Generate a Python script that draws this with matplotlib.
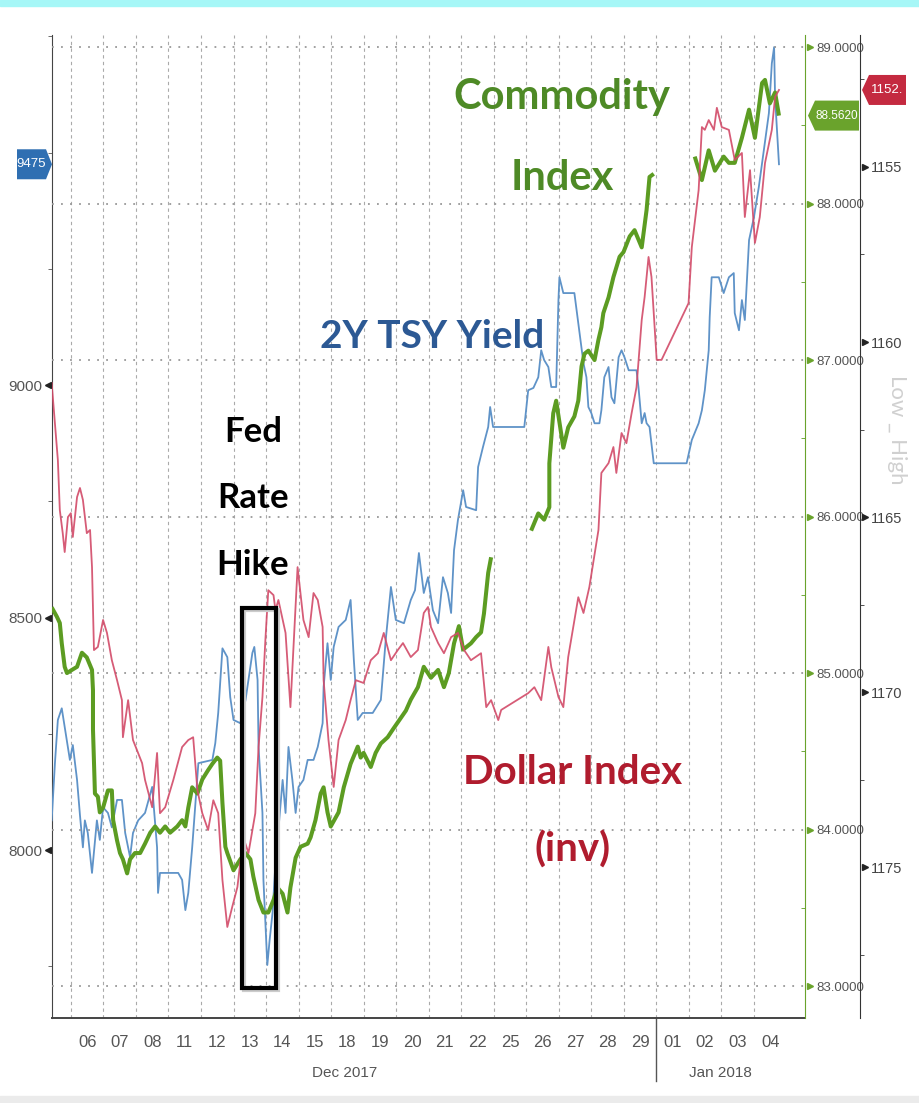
import numpy as np
import matplotlib.pyplot as plt
from matplotlib.patches import Polygon, Rectangle
from matplotlib.transforms import blended_transform_factory as blend

nan = float('nan')

# trading sessions on the x axis (slot i spans [i, i+1))
days = ['06', '07', '08', '11', '12', '13', '14', '15', '18', '19', '20', '21',
        '22', '25', '26', '27', '28', '29', '01', '02', '03', '04']

# 2Y TSY yield, left scale: (session position, value)
tsy = [(-0.59, 8064), (-0.49, 8187), (-0.40, 8280), (-0.28, 8305), (-0.15, 8247), (-0.03, 8194),
       (0.06, 8226), (0.19, 8151), (0.28, 8075), (0.37, 8006), (0.43, 8064), (0.52, 8037),
       (0.65, 7951), (0.80, 8064), (0.89, 8022), (0.99, 8092), (1.14, 8080), (1.26, 8049),
       (1.42, 8108), (1.57, 8108), (1.67, 8037), (1.82, 7985), (1.91, 8037), (2.07, 8064),
       (2.28, 8080), (2.50, 8136), (2.65, 8006), (2.68, 7908), (2.74, 7951), (3.30, 7951),
       (3.42, 7936), (3.52, 7871), (3.61, 7908), (3.73, 8006), (3.92, 8187), (4.35, 8194),
       (4.44, 8230), (4.53, 8295), (4.66, 8434), (4.81, 8415), (4.90, 8329), (5.00, 8280),
       (5.21, 8273), (5.37, 8323), (5.46, 8366), (5.58, 8424), (5.64, 8437), (5.74, 8366),
       (5.77, 8222), (5.89, 8080), (5.92, 7936), (6.04, 7753), (6.11, 7806), (6.20, 7865),
       (6.29, 7972), (6.38, 8043), (6.51, 8151), (6.60, 8080), (6.69, 8222), (6.81, 8151),
       (6.91, 8080), (7.00, 8136), (7.15, 8151), (7.28, 8194), (7.46, 8194), (7.59, 8222),
       (7.74, 8273), (7.77, 8351), (7.89, 8445), (7.99, 8366), (8.08, 8437), (8.23, 8480),
       (8.45, 8495), (8.60, 8538), (8.70, 8409), (8.82, 8280), (8.97, 8295), (9.28, 8295),
       (9.53, 8323), (9.68, 8452), (9.84, 8566), (9.99, 8495), (10.24, 8488), (10.45, 8538),
       (10.58, 8559), (10.70, 8639), (10.85, 8553), (10.98, 8587), (11.13, 8516), (11.29, 8488),
       (11.44, 8587), (11.59, 8553), (11.69, 8510), (11.78, 8645), (11.90, 8710), (12.06, 8774),
       (12.15, 8738), (12.46, 8731), (12.52, 8824), (12.67, 8867), (12.83, 8910), (12.89, 8953),
       (12.98, 8910), (13.94, 8910), (14.06, 8989), (14.22, 8994), (14.37, 9017), (14.46, 9075),
       (14.55, 9054), (14.68, 9039), (14.77, 8996), (14.92, 8996), (14.99, 9183), (15.02, 9232),
       (15.14, 9198), (15.48, 9198), (15.63, 9118), (15.76, 9047), (15.85, 9017), (15.91, 8953),
       (16.00, 8940), (16.10, 8918), (16.25, 8918), (16.31, 8946), (16.40, 9017), (16.53, 9039),
       (16.62, 8974), (16.71, 8961), (16.84, 9060), (16.93, 9075), (17.02, 9060), (17.15, 9032),
       (17.39, 9032), (17.45, 8996), (17.55, 8918), (17.64, 8940), (17.70, 8918), (17.79, 8910),
       (17.92, 8832), (18.93, 8832), (19.09, 8882), (19.30, 8918), (19.40, 8946), (19.49, 8989),
       (19.61, 9075), (19.64, 9146), (19.70, 9232), (19.92, 9232), (20.07, 9198), (20.23, 9232),
       (20.38, 9241), (20.41, 9155), (20.54, 9118), (20.63, 9183), (20.72, 9140), (20.85, 9312),
       (21.00, 9361), (21.15, 9426), (21.25, 9477), (21.46, 9585), (21.55, 9692), (21.62, 9727),
       (21.65, 9619), (21.77, 9475)]

# Commodity index, inner right scale (gaps = holidays)
cmdty = [(-0.59, 85.42), (-0.43, 85.36), (-0.34, 85.32), (-0.28, 85.19), (-0.19, 85.04), (-0.12, 85.00),
         (0.03, 85.02), (0.19, 85.04), (0.34, 85.13), (0.49, 85.10), (0.65, 85.02), (0.68, 84.89),
         (0.68, 84.64), (0.74, 84.23), (0.83, 84.21), (0.89, 84.11), (0.99, 84.14), (1.14, 84.25),
         (1.26, 84.25), (1.30, 84.06), (1.42, 83.93), (1.51, 83.85), (1.60, 83.81), (1.73, 83.72),
         (1.82, 83.81), (1.97, 83.85), (2.13, 83.85), (2.28, 83.91), (2.44, 83.98), (2.59, 84.02),
         (2.74, 83.98), (2.90, 84.02), (3.05, 83.98), (3.27, 84.02), (3.42, 84.06), (3.52, 84.02),
         (3.61, 84.14), (3.73, 84.27), (3.89, 84.23), (4.04, 84.32), (4.22, 84.38), (4.35, 84.42),
         (4.50, 84.46), (4.59, 84.44), (4.66, 84.17), (4.75, 83.89), (4.81, 83.85), (5.00, 83.74),
         (5.21, 83.81), (5.37, 83.85), (5.52, 83.81), (5.61, 83.70), (5.77, 83.55), (5.92, 83.47),
         (6.07, 83.47), (6.23, 83.55), (6.35, 83.63), (6.51, 83.59), (6.66, 83.47), (6.75, 83.63),
         (6.91, 83.82), (7.06, 83.89), (7.28, 83.91), (7.37, 83.95), (7.52, 84.06), (7.68, 84.23),
         (7.77, 84.27), (7.89, 84.11), (7.99, 84.02), (8.23, 84.11), (8.39, 84.27), (8.60, 84.42),
         (8.82, 84.53), (8.91, 84.46), (9.00, 84.49), (9.22, 84.40), (9.37, 84.49), (9.53, 84.55),
         (9.74, 84.59), (9.90, 84.64), (10.30, 84.76), (10.45, 84.83), (10.67, 84.91), (10.85, 85.04),
         (11.07, 84.97), (11.29, 85.02), (11.47, 84.91), (11.62, 85.00), (11.78, 85.19), (11.93, 85.30),
         (12.06, 85.15), (12.30, 85.19), (12.46, 85.23), (12.61, 85.26), (12.70, 85.38), (12.83, 85.64),
         (12.92, 85.74), (13.50, nan), (14.15, 85.91), (14.37, 86.02), (14.55, 85.98), (14.71, 86.06),
         (14.71, 86.34), (14.83, 86.66), (14.92, 86.74), (15.14, 86.44), (15.29, 86.57), (15.48, 86.64),
         (15.60, 86.74), (15.70, 86.96), (15.79, 87.04), (15.91, 87.06), (16.10, 87.00), (16.22, 87.13),
         (16.31, 87.21), (16.37, 87.30), (16.53, 87.40), (16.68, 87.53), (16.87, 87.66), (16.99, 87.69),
         (17.18, 87.79), (17.33, 87.83), (17.55, 87.72), (17.70, 87.96), (17.79, 88.17), (17.92, 88.19),
         (18.50, nan), (19.18, 88.30), (19.40, 88.15), (19.61, 88.34), (19.80, 88.21), (20.07, 88.30),
         (20.23, 88.26), (20.41, 88.26), (20.63, 88.42), (20.85, 88.60), (21.03, 88.42), (21.25, 88.77),
         (21.34, 88.79), (21.49, 88.64), (21.65, 88.71), (21.77, 88.562)]

# Dollar index, outer right scale (inverted)
dxy = [(-0.59, 1161.17), (-0.40, 1163.37), (-0.34, 1164.80), (-0.25, 1165.46), (-0.19, 1166.00), (-0.09, 1165.00),
       (0.00, 1164.89), (0.06, 1165.57), (0.19, 1164.43), (0.28, 1164.17), (0.37, 1164.51), (0.49, 1165.46),
       (0.59, 1165.37), (0.65, 1166.43), (0.71, 1168.80), (0.83, 1168.71), (0.99, 1167.94), (1.11, 1168.31),
       (1.26, 1169.09), (1.42, 1169.66), (1.57, 1170.23), (1.60, 1171.29), (1.76, 1170.23), (1.91, 1171.37),
       (2.19, 1172.03), (2.28, 1172.51), (2.50, 1173.29), (2.65, 1171.74), (2.74, 1173.46), (2.90, 1173.29),
       (3.15, 1172.51), (3.42, 1171.57), (3.61, 1171.37), (3.76, 1171.29), (3.89, 1172.80), (4.04, 1173.46),
       (4.22, 1173.94), (4.38, 1173.09), (4.53, 1173.46), (4.66, 1175.37), (4.81, 1176.71), (4.96, 1176.14),
       (5.12, 1175.57), (5.30, 1174.14), (5.46, 1174.60), (5.67, 1173.46), (5.77, 1171.57), (5.89, 1170.14),
       (5.98, 1168.51), (6.07, 1167.09), (6.23, 1167.23), (6.29, 1167.66), (6.38, 1167.37), (6.60, 1168.31),
       (6.75, 1170.43), (6.97, 1166.43), (7.15, 1167.94), (7.31, 1168.43), (7.46, 1167.17), (7.59, 1167.37),
       (7.74, 1168.14), (7.77, 1169.66), (7.92, 1171.37), (8.08, 1172.71), (8.23, 1171.37), (8.45, 1170.80),
       (8.60, 1170.23), (8.76, 1169.66), (9.00, 1169.74), (9.22, 1169.09), (9.44, 1168.89), (9.62, 1168.31),
       (9.84, 1169.09), (10.05, 1168.80), (10.21, 1168.60), (10.45, 1169.00), (10.67, 1168.80), (10.85, 1167.74),
       (10.98, 1167.57), (11.07, 1168.14), (11.29, 1168.60), (11.47, 1168.89), (11.69, 1168.43), (11.90, 1168.31),
       (12.09, 1168.80), (12.30, 1169.09), (12.61, 1168.89), (12.77, 1170.43), (12.92, 1170.23), (13.14, 1170.80),
       (13.23, 1170.51), (14.06, 1170.03), (14.25, 1169.86), (14.46, 1170.23), (14.68, 1168.71), (14.77, 1169.29),
       (14.99, 1170.14), (15.14, 1170.43), (15.29, 1169.00), (15.60, 1167.29), (15.76, 1167.74), (15.94, 1167.00),
       (16.22, 1165.37), (16.31, 1163.74), (16.53, 1163.46), (16.68, 1163.00), (16.77, 1163.74), (16.93, 1162.60),
       (17.08, 1162.89), (17.24, 1162.03), (17.39, 1161.29), (17.55, 1159.37), (17.64, 1158.71), (17.76, 1157.57),
       (17.85, 1158.14), (18.01, 1160.51), (18.16, 1160.51), (18.99, 1158.89), (19.09, 1157.29), (19.30, 1155.66),
       (19.40, 1153.86), (19.49, 1153.94), (19.61, 1153.66), (19.77, 1153.94), (19.86, 1153.31), (20.01, 1153.86),
       (20.23, 1153.94), (20.41, 1154.80), (20.63, 1154.60), (20.72, 1156.43), (20.88, 1155.09), (21.03, 1157.17),
       (21.18, 1156.43), (21.34, 1154.89), (21.55, 1153.94), (21.65, 1153.00), (21.77, 1152.80)]

tsy_ticks = [8000, 8500, 9000]
tsy_minor = [7750, 8250, 8750, 9250, 9500, 9750]
cmdty_ticks = [83, 84, 85, 86, 87, 88, 89]
dxy_ticks = [1155, 1160, 1165, 1170, 1175]

W, H = 919, 1103
BLUE, GREEN, RED = '#5f93c8', '#5c9c22', '#d24a68'
plt.rcParams['font.family'] = ['Liberation Sans', 'DejaVu Sans']


def P(px, py):
    # pixel (top-left origin) -> figure fraction
    return px / W, 1 - py / H


fig = plt.figure(figsize=(W / 100, H / 100), dpi=100)
fig.patch.set_facecolor('white')
ax = fig.add_axes([52 / W, 1 - 1018 / H, (805 - 52) / W, (1018 - 35) / H])
ax2 = ax.twinx()
ax3 = ax.twinx()

ax.set_xlim(-0.58, 22.57)
ax.set_ylim(7639, 9753)
ax2.set_ylim(82.796, 89.077)
ax3.set_ylim(1179.31, 1151.23)

tx, ty = zip(*tsy)
gx, gy = zip(*cmdty)
rx, ry = zip(*dxy)
ax.plot(tx, ty, color=BLUE, lw=1.3, zorder=3)
ax2.plot(gx, gy, color=GREEN, lw=2.9, zorder=3, solid_capstyle='butt')
ax3.plot(rx, ry, color=RED, lw=1.3, zorder=3, alpha=0.9)

# x axis: labels centred in each session, grid at session boundaries
ax.set_xticks(np.arange(len(days)) + 0.5)
ax.set_xticklabels(days, fontsize=12, color='#555555')
ax.set_xticks(np.arange(len(days)), minor=True)
ax.tick_params(axis='x', which='both', length=0, pad=12)
ax.grid(which='minor', axis='x', color='#aaaaaa', ls=(0, (3, 3)), lw=0.8)

# left scale
ax.set_yticks(tsy_ticks)
ax.set_yticks(tsy_minor, minor=True)
ax.set_yticklabels([str(v) for v in tsy_ticks], fontsize=11, color='#555555')
ax.tick_params(axis='y', which='major', length=0, pad=7)
ax.tick_params(axis='y', which='minor', length=3, color='#555555')
lt = blend(ax.transAxes, ax.transData)
ax.plot([-0.005] * 3, tsy_ticks, '<', color='#222222', ms=5, transform=lt, clip_on=False)

# commodity scale
ax2.set_yticks(cmdty_ticks)
ax2.set_yticks(np.array(cmdty_ticks[:-1]) + 0.5, minor=True)
ax2.set_yticklabels([f'{v:.4f}' for v in cmdty_ticks], fontsize=9.5, color='#555555')
ax2.tick_params(axis='y', which='major', length=0, pad=8)
ax2.tick_params(axis='y', which='minor', length=3, color=GREEN, direction='in')
ax2.grid(axis='y', which='major', color='#999999', ls=(0, (1, 4)), lw=1.3)
gt = blend(ax2.transAxes, ax2.transData)
ax2.plot([1.006] * len(cmdty_ticks), cmdty_ticks, '>', color='#6aa32c', ms=5, transform=gt, clip_on=False)

# dollar scale
ax3.spines['right'].set_position(('axes', 808 / 753))
ax3.set_yticks(dxy_ticks)
ax3.set_yticks([1152.5, 1157.5, 1162.5, 1167.5, 1172.5, 1177.5], minor=True)
ax3.set_yticklabels([str(v) for v in dxy_ticks], fontsize=10.5, color='#444444')
ax3.tick_params(axis='y', which='major', length=0, pad=8)
ax3.tick_params(axis='y', which='minor', length=3, color='#333333')
rt = blend(ax3.transAxes, ax3.transData)
ax3.plot([808 / 753 + 0.006] * len(dxy_ticks), dxy_ticks, '>', color='#222222', ms=5, transform=rt, clip_on=False)

for a in (ax, ax2, ax3):
    for s in a.spines.values():
        s.set_visible(False)
ax.spines['left'].set_visible(True)
ax.spines['left'].set_color('#444444')
ax.spines['bottom'].set_visible(True)
ax.spines['bottom'].set_color('#444444')
ax.spines['bottom'].set_linewidth(1.4)
ax2.spines['right'].set_visible(True)
ax2.spines['right'].set_color('#6aa32c')
ax3.spines['right'].set_visible(True)
ax3.spines['right'].set_color('#333333')

# month labels and year separator
bt = blend(ax.transData, ax.transAxes)
ax.plot([18, 18], [0, -0.064], color='#555555', lw=1, transform=bt, clip_on=False)
fig.text(*P(345, 1073), 'Dec 2017', fontsize=11, color='#555555', ha='center', va='center')
fig.text(*P(720, 1073), 'Jan 2018', fontsize=11, color='#555555', ha='center', va='center')

# event box
fig.patches.append(Rectangle(P(244, 990), 34 / W, 380 / H, transform=fig.transFigure,
                             fill=False, ec='#cccccc', lw=3, zorder=4))
fig.patches.append(Rectangle(P(242, 988), 34 / W, 380 / H, transform=fig.transFigure,
                             fill=False, ec='black', lw=3, zorder=5))

# annotations
bold = dict(family=['Lato', 'DejaVu Sans'], weight='bold', ha='center', va='center')
fig.text(*P(562, 97), 'Commodity', fontsize=30, color='#4e8a26', **bold)
fig.text(*P(562, 178), 'Index', fontsize=30, color='#4e8a26', **bold)
fig.text(*P(432, 337), '2Y TSY Yield', fontsize=28, color='#2c5994', **bold)
fig.text(*P(253, 432), 'Fed', fontsize=25, color='black', **bold)
fig.text(*P(253, 498), 'Rate', fontsize=25, color='black', **bold)
fig.text(*P(253, 565), 'Hike', fontsize=25, color='black', **bold)
fig.text(*P(573, 772), 'Dollar Index', fontsize=29, color='#b01c2e', **bold)
fig.text(*P(573, 850), '(inv)', fontsize=29, color='#b01c2e', **bold)
fig.text(*P(897, 430), 'Low _ High', fontsize=16, color='#d0d0d0', rotation=-90,
         ha='center', va='center', family=['Lato', 'DejaVu Sans'], zorder=0)


def ypix(axis, v):
    return H - axis.transData.transform((0, v))[1]


def tag(x0, x1, tip, yc, color, text, size):
    h = 15
    if tip > x1:
        pts = [(x0, yc - h), (x1, yc - h), (tip, yc), (x1, yc + h), (x0, yc + h)]
    else:
        pts = [(tip, yc), (x0, yc - h), (x1, yc - h), (x1, yc + h), (x0, yc + h)]
    fig.patches.append(Polygon([P(*p) for p in pts], closed=True, transform=fig.transFigure,
                               fc=color, ec='none', zorder=6))
    fig.text(*P((x0 + x1) / 2, yc), text, color='white', fontsize=size, ha='center', va='center', zorder=7)


tag(17, 46, 52, ypix(ax, tsy[-1][1]), '#2f6fb2', f'{tsy[-1][1]:.0f}', 9.5)
tag(815, 859, 808, ypix(ax2, cmdty[-1][1]), '#6aa32c', f'{cmdty[-1][1]:.4f}', 8.5)
tag(869, 906, 862, ypix(ax3, dxy[-1][1]), '#c42a40', f'{dxy[-1][1]:.2f}'[:5], 9.5)

# frame bands
fig.patches.append(Rectangle((0, 1 - 6 / H), 1, 6 / H, transform=fig.transFigure, color='#a6f7f7'))
fig.patches.append(Rectangle((0, 0), 1, 7 / H, transform=fig.transFigure, color='#ebebeb'))

fig.savefig('out.png', dpi=100)
